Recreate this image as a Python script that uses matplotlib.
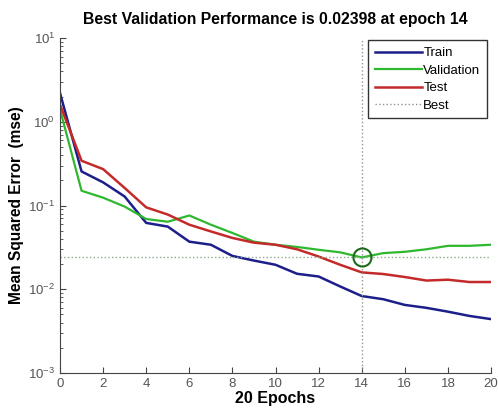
import matplotlib
matplotlib.use("Agg")
import matplotlib.pyplot as plt
from matplotlib.ticker import LogLocator, NullFormatter

plt.rcParams['font.family'] = ['Liberation Sans', 'DejaVu Sans']

epochs = list(range(21))
train = [2.2, 0.255, 0.189, 0.128, 0.062, 0.056, 0.037, 0.034, 0.025, 0.022, 0.0196,
         0.0153, 0.0142, 0.0108, 0.0083, 0.0076, 0.0065, 0.0060, 0.0054, 0.0048, 0.0044]
validation = [1.4, 0.15, 0.124, 0.097, 0.069, 0.064, 0.076, 0.059, 0.047, 0.037, 0.034,
              0.032, 0.0296, 0.0276, 0.02398, 0.027, 0.028, 0.030, 0.033, 0.033, 0.034]
test = [1.6, 0.342, 0.272, 0.162, 0.095, 0.078, 0.059, 0.049, 0.041, 0.036, 0.034,
        0.030, 0.0246, 0.0196, 0.0159, 0.0152, 0.0140, 0.0127, 0.0130, 0.0122, 0.0122]
best_epoch = 14
best_value = 0.02398

fig = plt.figure(figsize=(4.98, 4.15), dpi=100)
ax = fig.add_axes([0.1205, 0.1012, 0.8655, 0.8072])

ax.plot(epochs, train, color='#1c1f8a', lw=1.8, label='Train')
ax.plot(epochs, validation, color='#2fb82f', lw=1.6, label='Validation')
ax.plot(epochs, test, color='#c42a2a', lw=1.8, label='Test')
ax.axvline(best_epoch, color='#8a9a8a', lw=1, ls=':', label='Best')
ax.axhline(best_value, color='#8aa88a', lw=1, ls=':')
ax.plot([best_epoch], [best_value], 'o', mfc='none', mec='#1a6a1a', mew=1.5, ms=13)

ax.set_yscale('log')
ax.set_xlim(0, 20)
ax.set_ylim(1e-3, 1e1)
ax.set_xticks(range(0, 21, 2))
ax.yaxis.set_major_locator(LogLocator(base=10, numticks=10))
ax.yaxis.set_minor_locator(LogLocator(base=10, subs=range(2, 10), numticks=50))
ax.yaxis.set_minor_formatter(NullFormatter())

for side in ['top', 'right']:
    ax.spines[side].set_visible(False)
for side in ['left', 'bottom']:
    ax.spines[side].set_color('#444444')
ax.tick_params(direction='in', colors='#444444', labelcolor='#555555', labelsize=9.5, length=4)
ax.tick_params(which='minor', direction='in', length=2, colors='#444444')

ax.set_title('Best Validation Performance is 0.02398 at epoch 14',
             fontsize=11.3, fontweight='bold', pad=10)
ax.set_xlabel('20 Epochs', fontsize=11.5, fontweight='bold', labelpad=1)
ax.set_ylabel('Mean Squared Error  (mse)', fontsize=11.2, fontweight='bold', labelpad=3)

leg = ax.legend(loc='upper right', fontsize=9.5, fancybox=False, framealpha=1,
                edgecolor='#333333', handlelength=3.6, handletextpad=0.1,
                borderpad=0.5, labelspacing=0.4, borderaxespad=0.3,
                bbox_to_anchor=(1.0, 1.005))
leg.get_frame().set_linewidth(1)

fig.savefig('out.png', dpi=100)
